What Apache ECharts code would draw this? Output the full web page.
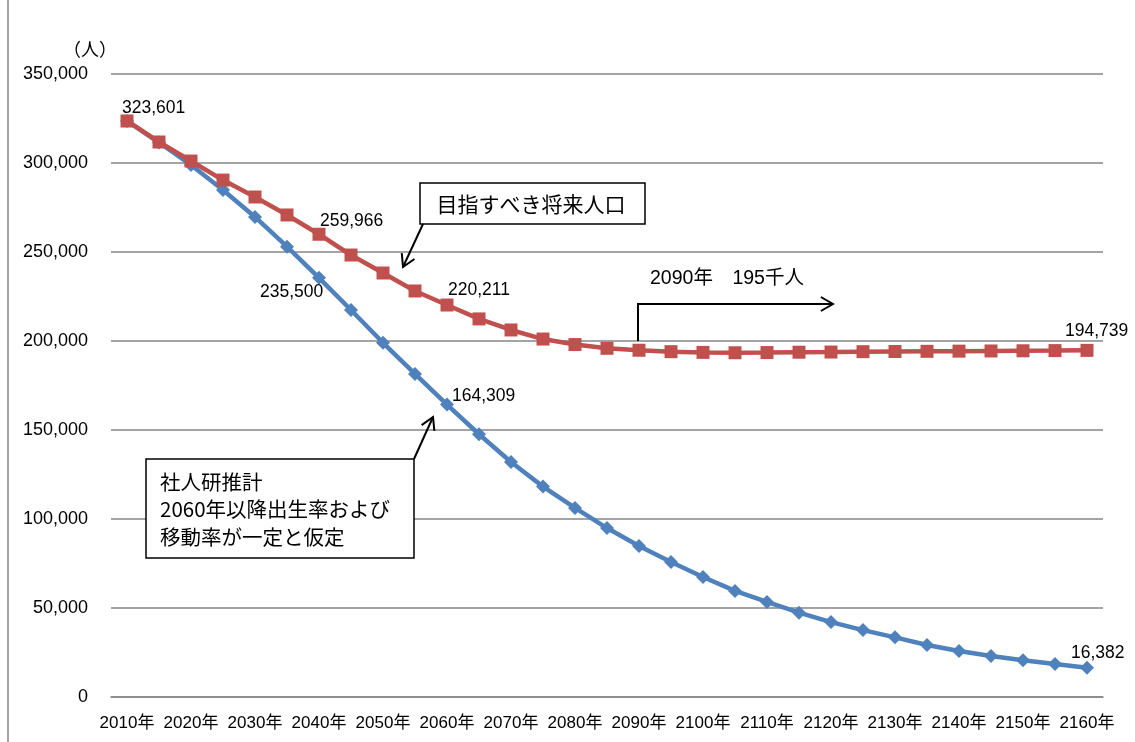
<!DOCTYPE html>
<html>
<head>
<meta charset="utf-8">
<script src="https://cdn.jsdelivr.net/npm/echarts@6/dist/echarts.min.js"></script>
<style>
  html, body { margin: 0; padding: 0; background: #fff; }
  #chart { width: 1135px; height: 742px; }
</style>
</head>
<body>
<div id="chart"></div>
<script>
// 年（5年ごと）
const years = [
  '2010年', '2015年', '2020年', '2025年', '2030年', '2035年', '2040年', '2045年',
  '2050年', '2055年', '2060年', '2065年', '2070年', '2075年', '2080年', '2085年',
  '2090年', '2095年', '2100年', '2105年', '2110年', '2115年', '2120年', '2125年',
  '2130年', '2135年', '2140年', '2145年', '2150年', '2155年', '2160年'
];
// 目指すべき将来人口
const targetPop = [
  323601, 311800, 301100, 290400, 280900, 270800, 259966, 248300,
  238200, 228100, 220211, 212400, 206200, 201100, 198000, 195900,
  194800, 194000, 193600, 193400, 193500, 193700, 193800, 194000,
  194100, 194200, 194300, 194400, 194500, 194600, 194739
];
// 社人研推計
const ipssPop = [
  323601, 311500, 298900, 284800, 269700, 253000, 235500, 217400,
  199000, 181500, 164309, 147600, 132000, 118200, 106200, 94900,
  84800, 75800, 67400, 59600, 53400, 47400, 42100, 37600,
  33500, 29200, 25800, 23000, 20600, 18500, 16382
];
const yTicks = [0, 50000, 100000, 150000, 200000, 250000, 300000, 350000];

// データラベルを出す点（index）と文字の置き場所
const targetLabels = { 0: [-5, -13], 6: [1, -13], 10: [1, -15], 30: [-22, -19] };
const ipssLabels = { 6: [-59, 14], 10: [5, -8], 30: [-16, -15] };

const numFont = '"Liberation Sans", "Noto Sans CJK JP", sans-serif';
const jpFont = '"Noto Sans CJK JP", sans-serif';

function withLabels(values, spots) {
  return values.map((v, i) => {
    if (!spots[i]) return v;
    return {
      value: v,
      label: {
        show: true,
        position: 'inside',
        align: 'left',
        verticalAlign: 'middle',
        offset: spots[i],
        color: '#000',
        fontSize: 17.5,
        fontFamily: numFont,
        formatter: p => p.value.toLocaleString('en-US')
      }
    };
  });
}

// 矢印の先（開いた矢じり）
function arrowHead(tip, from, len, ang) {
  const a = Math.atan2(from[1] - tip[1], from[0] - tip[0]);
  return [
    [tip[0] + len * Math.cos(a + ang), tip[1] + len * Math.sin(a + ang)],
    tip,
    [tip[0] + len * Math.cos(a - ang), tip[1] + len * Math.sin(a - ang)]
  ];
}

function arrow(points) {
  const n = points.length;
  const head = arrowHead(points[n - 1], points[n - 2], 14, Math.PI / 6);
  const st = { stroke: '#000', lineWidth: 2, fill: null };
  return [
    { type: 'polyline', shape: { points: points }, style: st, z: 10 },
    { type: 'polyline', shape: { points: head }, style: st, z: 10 }
  ];
}

const chart = echarts.init(document.getElementById('chart'));

const option = {
  animation: false,
  backgroundColor: '#fff',
  grid: { left: 111, right: 32, top: 74, bottom: 45 },
  xAxis: {
    type: 'category',
    data: years,
    boundaryGap: true,
    axisLine: { lineStyle: { color: '#868686', width: 1.5 } },
    axisTick: { interval: 0, length: 6, lineStyle: { color: '#868686', width: 1.5 } },
    axisLabel: {
      interval: 1,
      margin: 18,
      color: '#000',
      fontSize: 17,
      fontFamily: numFont
    },
    splitLine: { show: false }
  },
  yAxis: {
    type: 'value',
    min: yTicks[0],
    max: yTicks[yTicks.length - 1],
    interval: 50000,
    axisLine: { show: false },
    axisTick: { show: false },
    axisLabel: {
      margin: 23,
      color: '#000',
      fontSize: 18,
      fontFamily: numFont,
      formatter: v => v.toLocaleString('en-US')
    },
    splitLine: { lineStyle: { color: '#868686', width: 1.5 } }
  },
  series: [
    {
      name: '社人研推計',
      type: 'line',
      data: withLabels(ipssPop, ipssLabels),
      symbol: 'diamond',
      symbolSize: 14,
      showAllSymbol: true,
      lineStyle: { color: '#4F81BD', width: 4.5 },
      itemStyle: { color: '#4F81BD' },
      emphasis: { disabled: true },
      z: 3
    },
    {
      name: '目指すべき将来人口',
      type: 'line',
      data: withLabels(targetPop, targetLabels),
      symbol: 'rect',
      symbolSize: 13,
      showAllSymbol: true,
      lineStyle: { color: '#C0504D', width: 4.5 },
      itemStyle: { color: '#C0504D' },
      emphasis: { disabled: true },
      z: 4
    }
  ],
  graphic: [
    // 枠線（左）
    { type: 'line', shape: { x1: 8, y1: 0, x2: 8, y2: 742 }, style: { stroke: '#868686', lineWidth: 1.5 } },
    // 単位
    {
      type: 'text', x: 63, y: 49,
      style: { text: '（人）', font: '18px ' + jpFont, fill: '#000', textVerticalAlign: 'middle' }
    },
    // 目指すべき将来人口
    {
      type: 'rect', shape: { x: 420, y: 183, width: 225, height: 41 },
      style: { fill: '#fff', stroke: '#000', lineWidth: 1.5 }, z: 10
    },
    {
      type: 'text', x: 531, y: 204, z: 11,
      style: {
        text: '目指すべき将来人口', font: '21px ' + jpFont, fill: '#000',
        textAlign: 'center', textVerticalAlign: 'middle'
      }
    },
    ...arrow([[423, 224], [403, 267]]),
    // 2090年 195千人
    {
      type: 'text', x: 650, y: 279, z: 11,
      style: { text: '2090年　195千人', font: '19.5px ' + numFont, fill: '#000', textVerticalAlign: 'middle' }
    },
    ...arrow([[638, 341], [638, 304], [833, 304]]),
    // 社人研推計
    {
      type: 'rect', shape: { x: 146, y: 459, width: 268, height: 99 },
      style: { fill: '#fff', stroke: '#000', lineWidth: 1.5 }, z: 10
    },
    {
      type: 'text', x: 160, y: 468, z: 11,
      style: {
        text: '社人研推計\n2060年以降出生率および\n移動率が一定と仮定',
        font: '20.5px ' + jpFont, fill: '#000', lineHeight: 27.5
      }
    },
    ...arrow([[414, 459], [433, 417]])
  ]
};

chart.setOption(option);
</script>
</body>
</html>
